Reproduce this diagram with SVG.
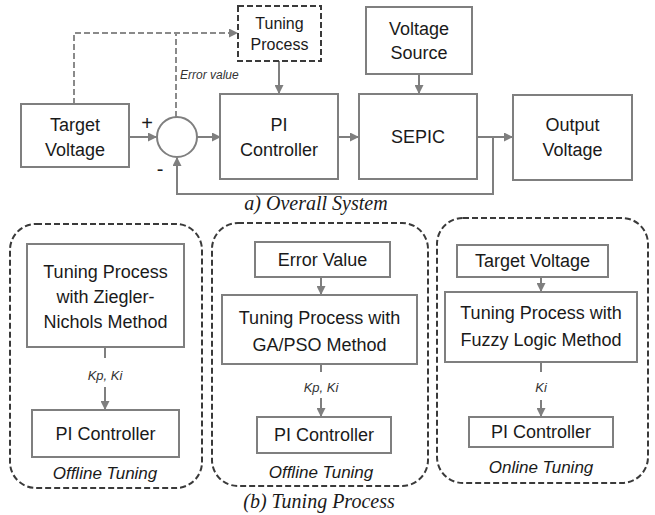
<svg xmlns="http://www.w3.org/2000/svg" width="655" height="515" viewBox="0 0 655 515">
<style>
.box{fill:#fff;stroke:#7f7f7f;stroke-width:2}
.dbox{fill:#fff;stroke:#3a3a3a;stroke-width:2;stroke-dasharray:6 3}
.panel{fill:none;stroke:#3a3a3a;stroke-width:2;stroke-dasharray:6 3}
.ln{fill:none;stroke:#7f7f7f;stroke-width:2}
.dln{fill:none;stroke:#8a8a8a;stroke-width:2;stroke-dasharray:6 3}
.t{font-family:"Liberation Sans",Arial,sans-serif;font-size:18px;fill:#1a1a1a;text-anchor:middle}
.ts{font-family:"Liberation Sans",Arial,sans-serif;font-size:16px;fill:#1a1a1a;text-anchor:middle}
.tp{font-family:"Liberation Sans",Arial,sans-serif;font-size:18px;fill:#1a1a1a;text-anchor:middle}
.it{font-family:"Liberation Sans",Arial,sans-serif;font-style:italic;font-size:13px;fill:#333;text-anchor:middle}
.it2{font-family:"Liberation Sans",Arial,sans-serif;font-style:italic;font-size:17px;fill:#1a1a1a;text-anchor:middle}
.cap{font-family:"Liberation Serif","Times New Roman",serif;font-style:italic;font-size:20px;fill:#1a1a1a;text-anchor:middle}
</style>
<defs>
<marker id="ah" markerWidth="9" markerHeight="9" refX="8" refY="4.5" orient="auto" markerUnits="userSpaceOnUse">
<path d="M0,0 L9,4.5 L0,9 z" fill="#7f7f7f"/>
</marker>
</defs>
<rect width="655" height="515" fill="#fff"/>
<g id="connectors">
<path class="dln" d="M74,104 V33 H237" marker-end="url(#ah)"/>
<path class="dln" d="M176,117 V33"/>
<path class="ln" d="M129,137 H156" marker-end="url(#ah)"/>
<path class="ln" d="M197,137 H220" marker-end="url(#ah)"/>
<path class="ln" d="M279,61 V93" marker-end="url(#ah)"/>
<path class="ln" d="M338,137 H358" marker-end="url(#ah)"/>
<path class="ln" d="M419,74 V93" marker-end="url(#ah)"/>
<path class="ln" d="M477,137 H512" marker-end="url(#ah)"/>
<path class="ln" d="M493,137 V194 H177 V158" marker-end="url(#ah)"/>
<path class="ln" d="M105,347 V358"/>
<path class="ln" d="M105,387 V409" marker-end="url(#ah)"/>
<path class="ln" d="M321,277 V294" marker-end="url(#ah)"/>
<path class="ln" d="M321,364 V372"/>
<path class="ln" d="M321,398 V416" marker-end="url(#ah)"/>
<path class="ln" d="M541,277 V291" marker-end="url(#ah)"/>
<path class="ln" d="M541,362 V372"/>
<path class="ln" d="M541,400 V416" marker-end="url(#ah)"/>
</g>
<g id="target-voltage"><rect class="box" x="21" y="104" width="108" height="63"/><text class="t" x="75" y="131">Target</text><text class="t" x="75" y="156">Voltage</text></g>
<g id="sum"><circle cx="177" cy="137" r="20" fill="#fff" stroke="#7f7f7f" stroke-width="2"/><text class="t" x="147" y="130" style="font-size:20px">+</text><text class="t" x="160" y="176" style="font-size:20px">-</text></g>
<g id="error-label"><text class="it" x="180" y="79" style="text-anchor:start;font-size:12px">Error value</text></g>
<g id="tuning-process"><rect class="dbox" x="238" y="6" width="83" height="55"/><text class="ts" x="279.5" y="29">Tuning</text><text class="ts" x="279.5" y="50">Process</text></g>
<g id="pi-controller"><rect class="box" x="220" y="94" width="118" height="85"/><text class="t" x="279" y="131">PI</text><text class="t" x="279" y="156">Controller</text></g>
<g id="voltage-source"><rect class="box" x="366" y="7" width="106" height="67"/><text class="t" x="419" y="35">Voltage</text><text class="t" x="419" y="59">Source</text></g>
<g id="sepic"><rect class="box" x="359" y="94" width="118" height="85"/><text class="t" x="418" y="143">SEPIC</text></g>
<g id="output-voltage"><rect class="box" x="513" y="95" width="119" height="85"/><text class="t" x="572.5" y="131">Output</text><text class="t" x="572.5" y="156">Voltage</text></g>
<g id="caption-a"><text class="cap" x="316" y="210">a) Overall System</text></g>
<g id="panel-zn">
<rect class="panel" x="10" y="224" width="192" height="264" rx="26"/>
<rect class="box" x="27" y="244" width="157" height="103"/>
<text class="tp" x="105.5" y="278">Tuning Process</text><text class="tp" x="105.5" y="303">with Ziegler-</text><text class="tp" x="105.5" y="328">Nichols Method</text>
<text class="it" x="105" y="380">Kp, Ki</text>
<rect class="box" x="32" y="410" width="147" height="47"/><text class="tp" x="105.5" y="440">PI Controller</text>
<text class="it2" x="105" y="479">Offline Tuning</text>
</g>
<g id="panel-ga">
<rect class="panel" x="212" y="223" width="216" height="263" rx="26"/>
<rect class="box" x="255" y="242" width="135" height="35"/><text class="tp" x="322.5" y="266">Error Value</text>
<rect class="box" x="222" y="295" width="195" height="69"/><text class="tp" x="319.5" y="324">Tuning Process with</text><text class="tp" x="319.5" y="351">GA/PSO Method</text>
<text class="it" x="321" y="392">Kp, Ki</text>
<rect class="box" x="257" y="417" width="134" height="36"/><text class="tp" x="324" y="441">PI Controller</text>
<text class="it2" x="321" y="478">Offline Tuning</text>
</g>
<g id="panel-fuzzy">
<rect class="panel" x="437" y="218" width="211" height="265" rx="26"/>
<rect class="box" x="457" y="245" width="151" height="32"/><text class="tp" x="532.5" y="267">Target Voltage</text>
<rect class="box" x="445" y="292" width="192" height="70"/><text class="tp" x="541" y="319">Tuning Process with</text><text class="tp" x="541" y="346">Fuzzy Logic Method</text>
<text class="it" x="541" y="392">Ki</text>
<rect class="box" x="469" y="417" width="144" height="30"/><text class="tp" x="541" y="438">PI Controller</text>
<text class="it2" x="541" y="473">Online Tuning</text>
</g>
<g id="caption-b"><text class="cap" x="319" y="508">(b) Tuning Process</text></g>
</svg>
